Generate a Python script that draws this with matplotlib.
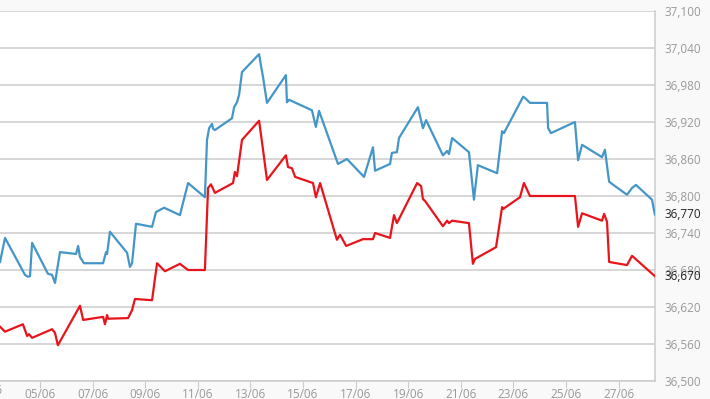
import matplotlib
matplotlib.use("Agg")
import matplotlib.pyplot as plt

plt.rcParams['font.family'] = ['Open Sans', 'DejaVu Sans']

# day of June (fractional)
blue_days = [3.48, 3.67, 4.43, 4.54, 4.62, 4.70, 5.30, 5.46, 5.57, 5.76,
             6.37, 6.45, 6.52, 6.67, 7.40, 7.51, 7.55, 7.66, 8.31, 8.42,
             8.50, 8.65, 9.26, 9.41, 9.72, 10.32, 10.63, 11.27, 11.35, 11.43,
             11.54, 11.58, 11.65, 12.30, 12.38, 12.49, 12.57, 12.68, 13.33, 13.40,
             13.48, 13.63, 14.35, 14.39, 14.47, 15.34, 15.49, 15.61, 16.33, 16.67,
             17.32, 17.66, 17.74, 18.31, 18.38, 18.57, 18.65, 19.37, 19.56, 19.68,
             20.32, 20.48, 20.55, 20.67, 21.31, 21.50, 21.65, 22.38, 22.57, 22.64,
             23.37, 23.44, 23.63, 24.28, 24.32, 24.43, 25.34, 25.46, 25.61, 26.37,
             26.48, 26.64, 27.32, 27.51, 27.66, 28.27, 28.38]
blue_vals = [36693, 36732, 36672, 36669, 36670, 36724, 36674, 36672, 36659, 36709,
             36706, 36719, 36701, 36691, 36691, 36709, 36706, 36742, 36708, 36685,
             36691, 36755, 36750, 36774, 36781, 36769, 36821, 36798, 36891, 36910,
             36917, 36909, 36907, 36926, 36944, 36952, 36964, 37001, 37030, 37012,
             36993, 36951, 36996, 36952, 36956, 36939, 36912, 36938, 36852, 36860,
             36831, 36879, 36841, 36852, 36870, 36871, 36894, 36944, 36910, 36923,
             36866, 36873, 36868, 36894, 36871, 36794, 36850, 36837, 36905, 36902,
             36961, 36959, 36951, 36951, 36910, 36902, 36920, 36858, 36883, 36863,
             36875, 36823, 36802, 36813, 36818, 36794, 36770]

red_days = [3.48, 3.67, 4.35, 4.51, 4.58, 4.70, 5.46, 5.57, 5.68, 6.52,
            6.64, 7.40, 7.47, 7.55, 7.59, 8.35, 8.50, 8.61, 9.26, 9.45,
            9.75, 10.32, 10.63, 11.27, 11.39, 11.50, 11.65, 12.34, 12.41, 12.49,
            12.68, 13.33, 13.48, 13.63, 14.35, 14.43, 14.58, 14.70, 15.38, 15.49,
            15.65, 16.29, 16.41, 16.64, 17.28, 17.66, 17.74, 18.31, 18.46, 18.57,
            19.34, 19.49, 19.56, 19.64, 20.32, 20.48, 20.55, 20.67, 21.31, 21.46,
            21.54, 22.34, 22.57, 22.61, 23.25, 23.40, 23.63, 25.34, 25.46, 25.61,
            26.37, 26.45, 26.56, 26.64, 27.32, 27.51, 28.38]
red_vals = [36588, 36580, 36592, 36573, 36576, 36570, 36584, 36578, 36558, 36622,
            36599, 36604, 36592, 36607, 36601, 36602, 36615, 36633, 36631, 36691,
            36678, 36690, 36680, 36680, 36813, 36819, 36805, 36821, 36839, 36832,
            36891, 36922, 36875, 36826, 36866, 36847, 36845, 36831, 36821, 36798,
            36821, 36729, 36737, 36719, 36730, 36730, 36740, 36732, 36769, 36756,
            36821, 36816, 36795, 36792, 36751, 36760, 36756, 36760, 36756, 36690,
            36698, 36717, 36782, 36779, 36798, 36821, 36800, 36800, 36750, 36772,
            36760, 36771, 36758, 36693, 36688, 36703, 36670]

y_ticks = list(range(36500, 37101, 60))
x_ticks = list(range(5, 28, 2))
last_blue = "36,770"
last_red = "36,670"

fig = plt.figure(figsize=(7.10, 3.99), dpi=100, facecolor='#f9f9f9')
ax = fig.add_axes([0.0, 18 / 399, 655 / 710, 370 / 399])
ax.set_facecolor('white')

ax.plot(blue_days, blue_vals, color='#4596c8', lw=1.6, solid_joinstyle='round', zorder=3)
ax.plot(red_days, red_vals, color='#e8141c', lw=1.6, solid_joinstyle='round', zorder=3)

ax.set_xlim(3.479, 28.384)
ax.set_ylim(36500, 37100)

# y axis on the right
ax.yaxis.tick_right()
ax.set_yticks(y_ticks)
ax.set_yticklabels([f"{v:,}" for v in y_ticks])
ax.tick_params(axis='y', length=0, pad=7, labelsize=8.5, labelcolor='#999999')
ax.grid(axis='y', color='#cccccc', lw=1.1)

ax.set_xticks(x_ticks)
ax.set_xticklabels([f"{d:02d}/06" for d in x_ticks])
ax.tick_params(axis='x', length=5, width=0.8, color='#cccccc', pad=-0.3,
               labelsize=8.5, labelcolor='#999999')
# the cut-off label at the left edge
ax.text(3, -0.009, "03/06", transform=ax.get_xaxis_transform(), ha='center', va='top',
        fontsize=8.5, color='#999999', clip_on=False)

for sp in ['left', 'top']:
    ax.spines[sp].set_visible(False)
for sp in ['right', 'bottom']:
    ax.spines[sp].set_color('#cccccc')
    ax.spines[sp].set_linewidth(1.1)

# current value labels
for lab, v in [(last_blue, 36770), (last_red, 36670)]:
    ax.annotate(lab, xy=(1, v), xycoords=('axes fraction', 'data'), xytext=(7, 0),
                textcoords='offset points', va='center', ha='left', fontsize=8.5,
                color='#222222', annotation_clip=False)

fig.savefig("out.png", dpi=100, facecolor=fig.get_facecolor())
